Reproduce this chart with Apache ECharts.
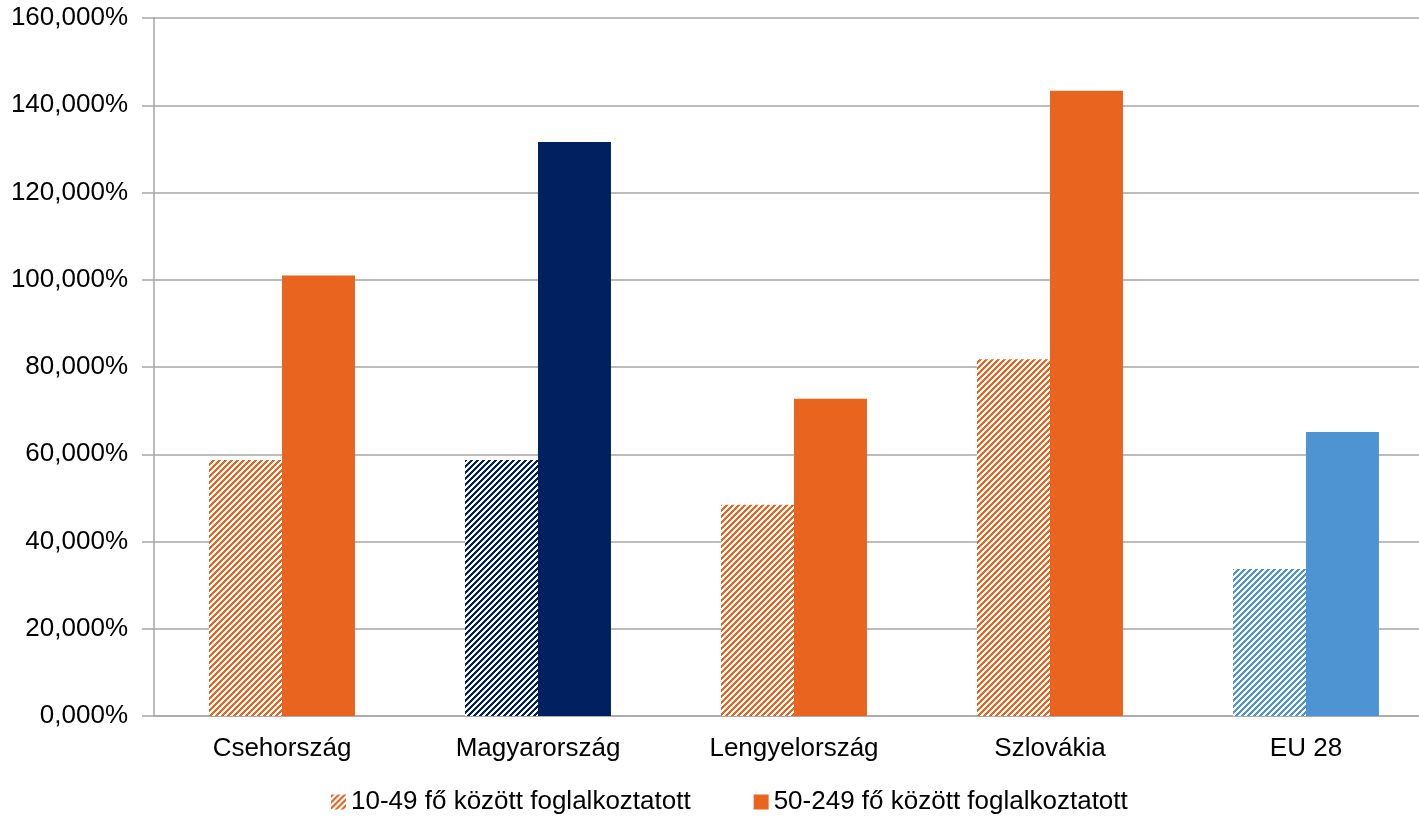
<!DOCTYPE html>
<html>
<head>
<meta charset="utf-8">
<script src="https://cdn.jsdelivr.net/npm/echarts@6/dist/echarts.min.js"></script>
<style>
  html, body { margin: 0; padding: 0; background: #fff; }
  #chart { width: 1419px; height: 816px; }
</style>
</head>
<body>
<div id="chart"></div>
<script>
const categories = ['Csehország', 'Magyarország', 'Lengyelország', 'Szlovákia', 'EU 28']
const small = [58.7, 58.7, 48.4, 81.8, 33.7]   // 10-49 fő
const medium = [101.0, 131.6, 72.7, 143.3, 65.1] // 50-249 fő
const seriesNames = ['10-49 fő között foglalkoztatott', '50-249 fő között foglalkoztatott']

const ORANGE = '#E9641E'
const NAVY = '#00205F'
const BLUE = '#4F94D2'
// per category colour: Hungary navy, EU blue, the rest orange
const barColors = [ORANGE, NAVY, ORANGE, ORANGE, BLUE]

// pixel staircase hatch, like the office "wide upward diagonal"
function hatch(color) {
  const size = 6
  const c = document.createElement('canvas')
  c.width = size
  c.height = size
  const ctx = c.getContext('2d')
  ctx.fillStyle = '#fff'
  ctx.fillRect(0, 0, size, size)
  ctx.fillStyle = color
  for (let y = 0; y < size; y++) {
    for (let x = 0; x < size; x++) {
      if ((x + y) % size < 3) ctx.fillRect(x, y, 1, 1)
    }
  }
  return { image: c, repeat: 'repeat' }
}

const chart = echarts.init(document.getElementById('chart'))
const axisGray = '#A6A6A6'
const font = 'Liberation Sans, Arial, sans-serif'

chart.setOption({
  animation: false,
  textStyle: { fontFamily: font },
  // plot runs past the right edge of the picture, as in the original crop
  grid: { left: 154, width: 1280, top: 18, bottom: 100, outerBoundsMode: 'none' },
  legend: {
    left: 326,
    bottom: -4,
    icon: 'rect',
    itemWidth: 15,
    itemHeight: 15,
    itemGap: 63,
    textStyle: { fontSize: 26, color: '#000', fontFamily: font },
    data: seriesNames
  },
  xAxis: {
    type: 'category',
    data: categories,
    axisLine: { lineStyle: { color: axisGray, width: 1.5 } },
    axisTick: { length: 8, lineStyle: { color: axisGray, width: 1.5 } },
    axisLabel: { fontSize: 26, color: '#000', margin: 20 }
  },
  yAxis: {
    type: 'value',
    min: 0,
    max: 160,
    interval: 20,
    axisLine: { show: true, lineStyle: { color: axisGray, width: 1.5 } },
    axisTick: { show: true, inside: false, length: 12, lineStyle: { color: axisGray, width: 1.5 } },
    splitLine: { lineStyle: { color: axisGray, width: 1.5 } },
    axisLabel: {
      fontSize: 26,
      color: '#000',
      margin: 26,
      formatter: (v) => v.toFixed(3).replace('.', ',') + '%'
    }
  },
  series: [
    {
      name: seriesNames[0],
      type: 'bar',
      barGap: '0%',
      barCategoryGap: '43%',
      itemStyle: { color: hatch(ORANGE) },
      data: small.map((v, i) => ({ value: v, itemStyle: { color: hatch(barColors[i]) } }))
    },
    {
      name: seriesNames[1],
      type: 'bar',
      itemStyle: { color: ORANGE },
      data: medium.map((v, i) => ({ value: v, itemStyle: { color: barColors[i] } }))
    }
  ]
})
</script>
</body>
</html>
